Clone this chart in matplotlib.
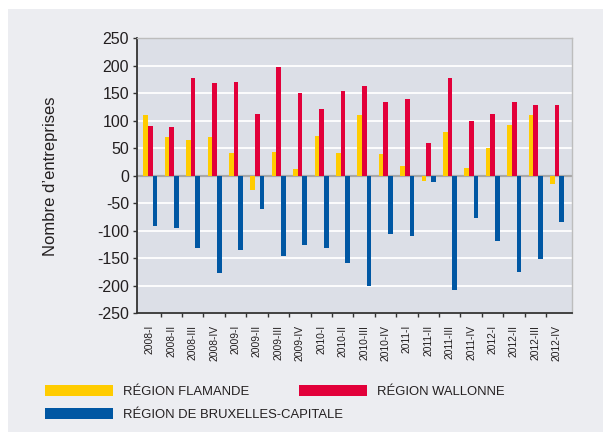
import matplotlib
matplotlib.use("Agg")
import matplotlib.pyplot as plt
from matplotlib.patches import Rectangle, Patch
from matplotlib.ticker import FixedLocator
import numpy as np

plt.rcParams['font.family'] = ['Liberation Sans', 'DejaVu Sans']

quarters = ["2008-I", "2008-II", "2008-III", "2008-IV",
            "2009-I", "2009-II", "2009-III", "2009-IV",
            "2010-I", "2010-II", "2010-III", "2010-IV",
            "2011-I", "2011-II", "2011-III", "2011-IV",
            "2012-I", "2012-II", "2012-III", "2012-IV"]
flamande = [110, 70, 66, 71, 42, -25, 44, 13, 73, 42, 110, 40, 17, -10, 79, 15, 51, 93, 111, -14]
wallonne = [91, 89, 177, 169, 171, 113, 198, 151, 122, 155, 164, 135, 140, 60, 178, 100, 113, 135, 128, 129]
bruxelles = [-92, -94, -132, -177, -135, -61, -146, -126, -132, -158, -200, -106, -110, -11, -207, -77, -118, -175, -151, -84]
series_names = ["RÉGION FLAMANDE", "RÉGION WALLONNE", "RÉGION DE BRUXELLES-CAPITALE"]
yticks = list(range(-250, 251, 50))

c_yel = "#FFCC00"
c_red = "#E2003A"
c_blu = "#0057A3"
txt = "#231F20"

W, H = 603, 432
fig = plt.figure(figsize=(W / 100, H / 100), dpi=100, facecolor="white")

# grey panel background
fig.patches.append(Rectangle((8 / W, 0), 1 - 8 / W, 1 - 9 / H, transform=fig.transFigure,
                             facecolor="#ECEDF1", edgecolor="none", zorder=-10))

ax_l, ax_r, ax_t, ax_b = 136.7, 572.3, 38.3, 313.3
ax = fig.add_axes([ax_l / W, 1 - ax_b / H, (ax_r - ax_l) / W, (ax_b - ax_t) / H])
ax.set_facecolor("#DCDFE7")

x = np.arange(len(quarters))
bw = 0.22
ax.bar(x - 0.2, flamande, bw, color=c_yel, zorder=3, label=series_names[0])
ax.bar(x + 0.015, wallonne, bw, color=c_red, zorder=3, label=series_names[1])
ax.bar(x + 0.235, bruxelles, bw, color=c_blu, zorder=3, label=series_names[2])

ax.set_ylim(-250, 250)
ax.set_xlim(-0.62, len(quarters) - 0.5 + 0.23)
ax.set_yticks(yticks)
ax.set_yticklabels([str(v) for v in yticks])
ax.yaxis.grid(True, color="white", linewidth=1.3, zorder=1)
ax.set_axisbelow(True)
ax.axhline(0, color="#A9A9A9", linewidth=1.6, zorder=2)

ax.set_xticks(x)
ax.set_xticklabels(quarters, rotation=90, fontsize=7.4, color=txt)
ax.xaxis.set_minor_locator(FixedLocator(x[:-1] + 0.5))
ax.tick_params(axis="x", which="major", length=0, pad=8.2)
ax.tick_params(axis="x", which="minor", length=3, width=1, color="#333333", direction="out")
ax.tick_params(axis="y", length=3, width=1, color="#333333", direction="out", pad=2.5,
               labelsize=11.5, labelcolor=txt)

for s in ["top", "right"]:
    ax.spines[s].set_color("#BDBDBD")
    ax.spines[s].set_linewidth(1.0)
for s in ["left", "bottom"]:
    ax.spines[s].set_color("#333333")
    ax.spines[s].set_linewidth(1.3)

ax.set_ylabel("Nombre d’entreprises", fontsize=12, color=txt)
ax.yaxis.label.set_va("center")
ax.yaxis.set_label_coords((50.7 - ax_l) / (ax_r - ax_l), 0.5)

fs = 9.4
h_yel = Patch(facecolor=c_yel, edgecolor="none")
h_red = Patch(facecolor=c_red, edgecolor="none")
h_blu = Patch(facecolor=c_blu, edgecolor="none")
common = dict(frameon=False, borderpad=0, borderaxespad=0, handlelength=5.23, handleheight=0.9,
              handletextpad=0.72, prop={"size": fs}, labelcolor=txt, loc="center left")
fig.legend([h_yel, h_red], series_names[:2], ncol=2, columnspacing=3.85,
           bbox_to_anchor=(45 / W, 1 - 391.8 / H), **common)
fig.legend([h_blu], series_names[2:], ncol=1,
           bbox_to_anchor=(45 / W, 1 - 414.2 / H), **common)

fig.savefig("out.png", dpi=100, facecolor=fig.get_facecolor())
